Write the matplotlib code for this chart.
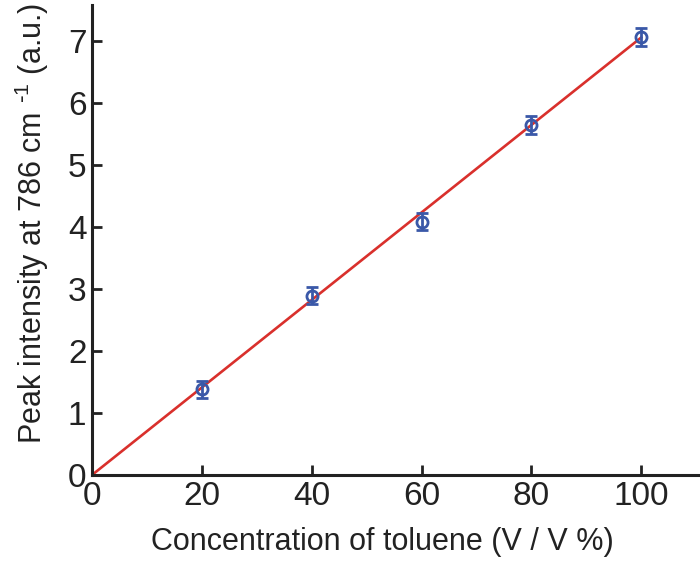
import matplotlib
matplotlib.use("Agg")
import matplotlib.pyplot as plt

plt.rcParams['font.family'] = ['Liberation Sans', 'DejaVu Sans']
plt.rcParams['mathtext.default'] = 'regular'

# data
conc = [20, 40, 60, 80, 100]
intensity = [1.38, 2.89, 4.08, 5.64, 7.06]
err = [0.14, 0.14, 0.14, 0.14, 0.14]
fit_x = [0, 100]
fit_y = [0, 7.05]
xticks = [0, 20, 40, 60, 80, 100]
yticks = [0, 1, 2, 3, 4, 5, 6, 7]

fig = plt.figure(figsize=(7, 5.66), dpi=100)
ax = fig.add_axes([0.1314, 0.1608, 0.8686, 0.830])

ax.plot(fit_x, fit_y, color='#d9302c', lw=1.9, zorder=2)
ax.errorbar(conc, intensity, yerr=err, fmt='o', mfc='none', mec='#3a58a8',
            ecolor='#3a58a8', ms=8, mew=2, elinewidth=2, capsize=4.5,
            capthick=2, zorder=3)

ax.set_xlim(0, 110.7)
ax.set_ylim(0, 7.57)
ax.set_xticks(xticks)
ax.set_yticks(yticks)

for s in ['top', 'right']:
    ax.spines[s].set_visible(False)
for s in ['left', 'bottom']:
    ax.spines[s].set_linewidth(2.2)
    ax.spines[s].set_color('#222222')

ax.tick_params(direction='in', length=7, width=2, colors='#222222',
               labelsize=24, pad=4)

ax.set_xlabel('Concentration of toluene (V / V %)', fontsize=22,
              color='#222222', labelpad=11)
ax.set_ylabel(r'Peak intensity at 786 cm $^{\text{-}1}$ (a.u.)', fontsize=22,
              color='#222222', labelpad=12)
# labels sit a bit off-centre in the original
ax.xaxis.label.set_x(0.477)
ax.yaxis.label.set_y(0.535)

fig.savefig('out.png', dpi=100)
